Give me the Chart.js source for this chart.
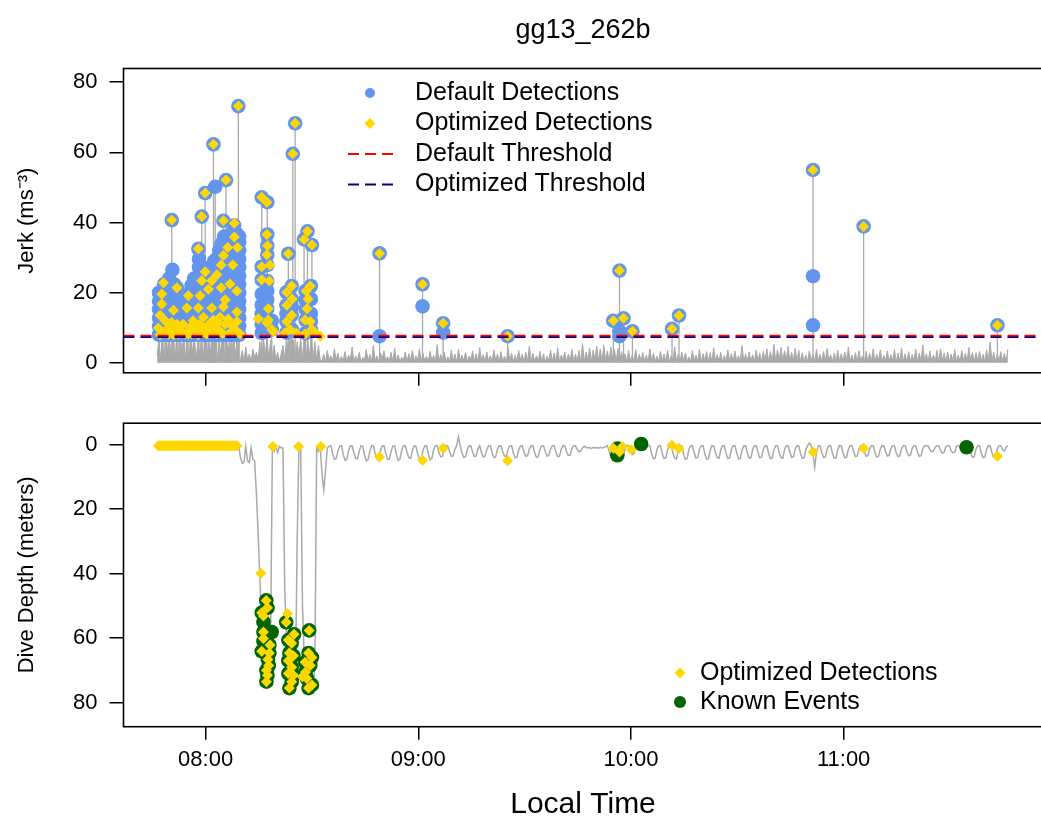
<!DOCTYPE html>
<html><head><meta charset="utf-8">
<script src="https://cdn.jsdelivr.net/npm/chart.js@4.4.1/dist/chart.umd.min.js"></script>
<style>
html,body{margin:0;padding:0;background:#fff;overflow:hidden;width:1041px;height:824px;}
#wrap{position:relative;width:1041px;height:824px;overflow:hidden;background:#fff;}
canvas{position:absolute;left:0;}
#title{position:absolute;left:123.5px;width:919px;top:13px;text-align:center;font-size:27px;font-family:"Liberation Sans",Arial,sans-serif;color:#000;z-index:5;line-height:32px;}
</style></head><body>
<div id="wrap">
<canvas id="c1" width="1050" height="398" style="top:0;width:1050px;height:398px"></canvas>
<canvas id="c2" width="1050" height="426" style="top:398px;width:1050px;height:426px"></canvas>
<div id="title">gg13_262b</div>
</div>
<script>
const FONT = '"Liberation Sans", Arial, sans-serif';
const X_MIN = 7.614, X_MAX = 11.935;
const tickHours = [8, 9, 10, 11];
const tickLabels = ['08:00', '09:00', '10:00', '11:00'];
const jerkTicks = [0, 20, 40, 60, 80];
const depthTicks = [0, 20, 40, 60, 80];
const thresholdDefault = 7.7;
const thresholdOptimized = 7.3;

// sensor traces sampled every 30 s from 07:46:20
const traceStart = 7.7722;
const traceStep = 1 / 120;
const jerkTrace = [
2,7,1,6.5,0.5,7.5,3,7,1,6,
0.5,7.5,2,7,4,7.5,1,6.5,0.5,7,
3,7.5,1,6,2,7.5,0.5,7,1.5,6.5,
3,7.5,1,7,0.5,6.5,2,7.5,1,7,
3,6.5,0.5,7.5,2,6,1,
1,3.5,0.5,4.5,1,2.5,0.5,4,1.5,3,1,
6,1,7,2,7.5,1,6.5,2,5,
1,3,0.5,2.5,
5,1,7,2,7.5,0.5,6.5,1,6,2,7,1,7.5,0.5,6.5,2,7,1,6,0.5,5,1,
0.5,2.5,0.3,3.5,1,2,0.4,4,0.8,2.8,
0.3,1.8,0.6,3.2,0.4,2.2,1,4.5,0.3,2,
0.6,3,0.3,1.5,0.8,3.8,0.4,2.4,0.3,5,
0.5,2,0.3,2.8,1.2,3.4,0.4,1.8,0.6,3,
0.3,4.2,0.5,2.3,0.3,1.6,0.9,3.1,0.4,2.6,
0.5,3.5,0.3,2,0.7,4,0.3,2.7,0.5,1.9,
0.4,3.3,0.6,2.1,0.3,5.2,0.5,2.4,0.8,3,
0.3,1.7,0.5,3.6,0.4,2.5,0.3,3.9,0.6,2.2,
0.5,2.9,0.3,1.9,1,3.4,0.4,2.6,0.3,4.4,
0.6,2.3,0.3,3.1,0.5,2,0.4,3.7,0.7,2.5,
0.3,3.2,0.5,1.8,0.4,4.1,0.6,2.8,0.3,2.1,
0.5,3.5,0.8,2.4,0.3,3,0.5,4.8,0.4,2.7,
0.3,2,0.6,3.3,0.4,2.6,0.3,1.9,0.7,3.6,
0.4,2.8,0.3,4.3,0.5,2.2,0.8,3.1,0.3,2.5,
0.5,3.8,0.4,2.4,0.6,3.5,0.3,5.5,0.5,3,
0.8,4.2,0.5,3.6,1,4.8,0.6,3.9,0.4,5,
0.7,3.4,0.5,4.5,0.9,3.8,0.4,4.1,0.6,3.2,
0.4,2.6,0.3,3.5,0.5,2.1,0.4,3.8,0.3,2.4,
0.6,3,0.4,2.2,0.3,4,0.5,2.7,0.4,1.9,
0.3,3.3,0.6,2.5,0.4,3.6,0.3,2,0.5,4.6,
0.4,2.4,0.3,3.1,0.6,2.8,0.4,1.7,0.3,3.5,
0.5,2.2,0.4,3.9,0.3,2.6,0.7,3.2,0.4,2.9,
0.3,4.3,0.5,2.4,0.4,3,0.3,2.1,0.6,3.7,
0.4,2.7,0.3,3.4,0.5,2,0.4,4.9,0.3,2.6,
0.5,3.1,0.6,2.3,0.3,3.6,0.5,2.8,0.4,3.3,
0.7,4,0.4,3.2,0.6,5.3,0.5,3.7,0.8,4.4,
0.5,3.5,0.7,4.7,0.4,3,0.6,4.2,0.5,3.6,
0.4,2.9,0.3,2.2,0.5,3.4,0.4,2.5,0.3,3.8,
0.6,2.4,0.3,3.2,0.4,4.1,0.5,2.3,0.3,2.8,
0.4,3.6,0.5,2.6,0.3,3.1,0.6,4.5,0.4,2.2,
0.3,2.9,0.4,3.5,0.5,2,0.3,3.3,0.4,2.7,
0.5,4,0.3,2.5,0.6,3.7,0.4,2.1,0.5,3.4,
0.4,2.3,0.6,3.8,0.3,2.8,0.5,4.3,0.4,2.6,
0.3,3.2,0.4,2.4,0.6,3.9,0.3,2.7,0.5,5.1,
0.4,2.6,0.3,3.4,0.5,2.2,0.4,3.6,0.3,4,
0.6,2.8,0.4,3.1,0.3,2.5,0.5,3.8,0.4,2.3,
0.3,3.5,0.5,2.7,0.4,4.4,0.6,3,0.3,2.9,
0.5,3.3,0.4,2.4,0.3,3.7,0.5,6,0.4,3.1,
0.3,2.5,0.6,3.2,0.4,2.7,0.3,3.9
];
const depthTrace = [
0.3,0.3,0.3,0.3,0.3,0.3,0.3,0.3,0.3,0.3,
0.3,0.3,0.3,0.3,0.3,0.3,0.3,0.3,0.3,0.3,
0.3,0.3,0.3,0.3,0.3,0.3,0.3,0.3,0.3,0.3,
0.3,0.3,0.3,0.3,0.3,0.3,0.3,0.3,0.3,0.3,
0.3,0.3,0.3,0.3,0.3,0.3,
0.3,4,5.8,5.5,0.5,5,5.5,1,4.5,5,
15,28,42,55,63,68,72,70,62,1,
2,0.5,2.5,0.5,1,
1,45,60,68,73,75,72,74,30,0.5,
1.5,
50,66,72,76,74,70,75,68,1,
2,0.5,9,14,8,1,0.5,
0.3,2.8,4.5,4.3,2,0.4, 0.3,3,4.8,4.6,1.8,0.3,
0.4,2.5,4.2,4.4,2.2,0.3, 0.5,3.2,5,4.7,2,0.4,
0.3,2.7,4.4,4.1,1.9,0.3, 0.3,2.6,4.6,4.5,2.1,0.4,
0.4,3,4.9,4.5,1.7,0.3, 0.3,2.4,4,4.2,2,0.3,
0.5,2.8,4.3,4.4,1.8,0.4, 0.3,2.9,4.7,4.3,1.6,0.3,
0.3,2.5,3.8,3.6,1.5,0.3, 0.4,2.2,3.6,3.5,1.4,0.3,
-2.5,0.3,2.6,3.9,3.7,1.5, 0.3,0.4,2.3,3.7,3.5,1.3,
0.3,2.4,3.8,3.6,1.6,0.3, 0.3,2.5,4,3.8,1.4,0.3,
0.4,2.2,3.5,3.7,1.5,0.3, 0.3,2.6,4.1,3.9,1.6,0.4,
0.3,2.3,3.6,3.4,1.4,0.3, 0.4,2.4,3.9,3.7,1.5,0.3,
0.3,2.1,3.5,3.3,1.3,0.3, 0.3,2.3,3.7,3.6,1.4,0.3,
0.4,2.2,3.4,3.2,1.2,0.3, 0.3,1.5,2.2,2,1,0.5,
0.8,1,0.9,1.2,0.8,1, 0.9,1.1,0.8,1,0.9,0.6,
0.3,2,3.8,3.6,1.2,0.3, 0.3,2.6,3.5,3.3,1.2,0.2,
0.3,1.8,3.1,2.8,0.6,0.2, 0.2,0.3,0.4,0.3,0.2,0.3,
0.3,2.8,4.4,4.2,1.5,0.3, 0.3,2.7,4.3,4.1,1.6,0.3,
0.4,2.5,4.2,4.5,1.7,0.3, 0.3,2.9,4.6,4.3,1.5,0.4,
0.3,2.6,4.1,4,1.4,0.3, 0.3,2.8,4.5,4.4,1.8,0.3,
0.4,2.4,4,4.2,1.6,0.3, 0.3,2.7,4.3,4.1,1.5,0.3,
0.3,2.5,4.4,4.3,1.7,0.4, 0.3,2.6,4.2,4,1.6,0.3,
0.3,2.4,4.1,3.9,1.5,0.3, 0.4,2.6,4.3,4.2,1.6,0.3,
0.3,2.5,4,4.2,1.5,0.3, 0.3,2.3,3.9,3.7,1.4,0.3,
0.4,2.7,4.2,4,1.6,0.3, -0.5,0.3,2.8,7,2.5,0.3,
0.3,2.4,4,3.8,1.5,0.3, 0.3,2.6,4.2,4.1,1.6,0.3,
0.4,2.5,4.1,3.9,1.4,0.3, 0.3,2.2,3.7,3.5,1.3,0.3,
0.3,2.3,3.6,3.4,1.3,0.3, 0.3,2.4,3.8,3.6,1.4,0.3,
0.4,2.2,3.5,3.3,1.2,0.3, 0.3,2.5,3.7,3.5,1.3,0.3,
0.3,2.1,3.4,3.3,1.2,0.3, 0.3,2.3,3.6,3.4,1.3,0.3,
0.3,0.4,1.5,2.2,2,0.8, 0.3,0.3,1.8,2.6,2.4,0.6,
0.3,0.3,2,2.5,2.3,0.5, 0.3,0.4,0.3,0.5,0.3,0.4,
0.3,2.5,3.9,3.7,1.4,0.3, 0.3,2.6,4,3.8,1.5,0.3,
0.4,2.4,3.8,3.6,1.3,0.3, 0.3,1.5,2,0.8,0.3
];

// detections grouped by time: [hour, value, value, ...]
const defaultDetections = [
[7.781, 8,10.4,12.8,15.2,17.6,20],
[7.793, 8,10.4,12.8,15.2,17.6,20],
[7.805, 8,10.4,12.8,15.2,17.6,20,22.4],
[7.817, 8,10.4,12.8,15.2,17.6,20,22.4],
[7.828, 8,10.4,12.8,15.2,17.6,20,22.4,24],
[7.841, 40.7],
[7.844, 26.5],
[7.852, 8,10.4,12.8,15.2,17.6,20,22.4],
[7.864, 8,10.4,12.8,15.2,17.6,20,21.5],
[7.875, 8,10.4,12.8,15.2,17.6,20],
[7.899, 8,10.4,12.8,15.2,17],
[7.910, 8,10.4,12.8,15.2,17.6],
[7.922, 8,10.4,12.8,15.2,17.6,19],
[7.934, 8,10.4,12.8,15.2,17.6,20,22],
[7.946, 8,10.4,12.8,15.2,17.6,20,22.4,24],
[7.966, 32.5],
[7.969, 8,10.4,12.8,15.2,17.6,20,22.4,24.8,27.2,29.6],
[7.982, 41.7],
[7.993, 8,10.4,12.8,15.2,17.6,20,22.4,24.8,27],
[7.998, 48.4],
[8.005, 8,10.4,12.8,15.2,17.6,20,22.4,24.8],
[8.016, 8,10.4,12.8,15.2,17.6,20,22.4,24.8,27],
[8.028, 8,10.4,12.8,15.2,17.6,20,22.4,24.8,27],
[8.037, 62.3],
[8.040, 8,10.4,12.8,15.2,17.6,20,22.4,24.8,27.2,29],
[8.045, 50.2],
[8.052, 8,10.4,12.8,15.2,17.6,20,22.4,24.8,27.2,29.6],
[8.064, 8,10.4,12.8,15.2,17.6,20,22.4,24.8,27.2,29.6,32],
[8.075, 8,10.4,12.8,15.2,17.6,20,22.4,24.8,27.2,29.6,32,34],
[8.084, 40.5],
[8.087, 8,10.4,12.8,15.2,17.6,20,22.4,24.8,27.2,29.6,32,34.4,36],
[8.096, 52.1],
[8.099, 8,10.4,12.8,15.2,17.6,20,22.4,24.8,27.2,29.6,32,34.4],
[8.111, 8,10.4,12.8,15.2,17.6,20,22.4,24.8,27.2,29.6,32,34.4,36],
[8.122, 8,10.4,12.8,15.2,17.6,20,22.4,24.8,27.2,29.6,32,34.4,36.8],
[8.134, 8,10.4,12.8,15.2,17.6,20,22.4,24.8,27.2,29.6,32,34.4,36.8,39.2],
[8.146, 8,10.4,12.8,15.2,17.6,20,22.4,24.8,27.2,29.6,32,34.4,36.8],
[8.154, 73.2],
[8.158, 8,10.4,12.8,15.2,17.6,20,22.4,24.8,27.2,29.6,32,34.4,36],
[8.264, 8.5,11,14,16.5,19.6,23.7,27.4,47.2],
[8.290, 9.5,12.2,15.4,18,20.5,23.3,27.9,30.8,33.4,36.6,45.8],
[8.311, 9.5,12],
[8.380, 8.6,11.8,14,16.4,20.1],
[8.389, 31.1],
[8.405, 9.5,13.6,16,18.2,21.9],
[8.410, 59.6],
[8.421, 68.3],
[8.463, 35.2],
[8.470, 8.5,12.2,15.4,18,20.5],
[8.479, 37.5],
[8.495, 9.5,11.8,14,18.2,21.9],
[8.500, 33.6],
[8.818, 7.6,31.2],
[9.020, 16.1,22.4],
[9.117, 8.6,11.3],
[9.420, 7.6],
[9.917, 12.0],
[9.946, 7.6,9.0,26.3],
[9.965, 12.7],
[10.007, 9.0],
[10.193, 9.7],
[10.226, 13.5],
[10.856, 10.7,24.7,55.0],
[11.094, 38.9],
[11.723, 10.7]
];
const optimizedDetections = [
[7.778, 9.9],[7.786, 8,13.6],[7.794, 16.8,19.6],[7.802, 22.8,8.5],[7.810, 12],[7.818, 9.5],[7.826, 8.2],
[7.834, 10.5],[7.841, 11.5,40.7],[7.849, 8,15],[7.857, 9],[7.865, 11,21.4],[7.872, 8.2],[7.880, 9.5],
[7.888, 8.5],[7.894, 11],[7.904, 8.3],
[7.912, 15.6],[7.919, 8.2,19.1],[7.927, 10],[7.935, 8.4],[7.941, 12],[7.951, 9],[7.958, 10.5],[7.966, 8,15.6,32.5],
[7.974, 11,19.1],[7.982, 23.4,41.7,8.5],[7.990, 13],[7.998, 9.5,26,48.4],[8.005, 8.2],[8.012, 10.8],[8.013, 21],
[8.021, 8.5],[8.029, 15.6,23.4],[8.037, 12.2,62.3],[8.045, 10],[8.053, 25.1,8.3],[8.059, 11.5],
[8.068, 9,13],[8.073, 21.4,27.9],[8.080, 8.4],[8.084, 16,30.6,40.5],[8.092, 11,18],[8.096, 52.1],[8.104, 32.9],
[8.106, 12.5],[8.115, 8.5,22.5],[8.125, 10.5],[8.128, 27.9],[8.135, 35.9,39.8],[8.139, 9.5],
[8.147, 11.8,14.5,20.5],[8.150, 32.9],[8.154, 73.2],[8.162, 8.2],
[8.248, 12.6],[8.264, 23.7,27.4,47.2],[8.288, 11.4,30.8,36.6,45.8],[8.291, 33.4],[8.295, 12.2,15.4],
[8.300, 23.3],[8.303, 27.9],[8.311, 9.5],[8.319, 9],
[8.374, 8.6],[8.382, 11.8,16.4,20.1],[8.389, 31.1],[8.397, 9.5],[8.405, 13.6,21.9],[8.407, 18.2],
[8.410, 59.6],[8.421, 68.3],[8.426, 8.5],
[8.463, 35.2],[8.468, 8.2,12.2],[8.473, 20.5],[8.477, 15.4],[8.479, 37.5],[8.482, 18.2],
[8.492, 11.8,21.9],[8.500, 9.5,33.6],[8.515, 8.6],[8.539, 7.6],
[8.818, 31.2],[9.020, 22.4],[9.117, 11.3],[9.420, 7.6],[9.917, 12.0],[9.946, 26.3],[9.965, 12.7],
[10.007, 9.0],[10.193, 9.7],[10.226, 13.5],[10.856, 55.0],[11.094, 38.9],[11.723, 10.7]
];
// depth of optimized detections: [hour, depth]
const optimizedDepths = [
[7.778,0.3],[7.786,0.3],[7.794,0.3],[7.802,0.3],[7.810,0.3],[7.818,0.3],[7.826,0.3],[7.834,0.3],
[7.841,0.3],[7.849,0.3],[7.857,0.3],[7.865,0.3],[7.873,0.3],[7.880,0.3],[7.888,0.3],[7.894,0.3],
[7.904,0.3],[7.912,0.3],[7.919,0.3],[7.927,0.3],[7.935,0.3],[7.941,0.3],[7.951,0.3],[7.958,0.3],
[7.966,0.3],[7.974,0.3],[7.982,0.3],[7.990,0.3],[7.998,0.3],[8.005,0.3],[8.013,0.3],[8.021,0.3],
[8.029,0.3],[8.037,0.3],[8.045,0.3],[8.053,0.3],[8.059,0.3],[8.068,0.3],[8.076,0.3],[8.084,0.3],
[8.092,0.3],[8.100,0.3],[8.106,0.3],[8.115,0.3],[8.125,0.3],[8.132,0.3],[8.139,0.3],[8.147,0.3],
[8.260,39.9],[8.285,48.3],[8.291,50.6],[8.264,52.1],[8.272,53.1],[8.272,58.1],[8.272,60.1],
[8.303,62.1],[8.264,64.1],[8.300,64.6],[8.293,66.6],[8.297,68.5],[8.286,70.0],[8.291,71.5],[8.286,73.5],
[8.316,0.6],
[8.385,52.4],[8.379,55.1],[8.416,58.8],[8.389,60.6],[8.405,61.6],[8.394,64.6],[8.413,65.5],
[8.389,67],[8.405,69],[8.389,71],[8.413,71.5],[8.405,73.5],[8.394,75.5],
[8.437,0.6],
[8.487,57.6],[8.484,64.6],[8.500,66],[8.468,67.5],[8.492,68.5],[8.470,70.5],[8.455,72],
[8.476,72.5],[8.500,74.5],[8.484,75.5],
[8.542,0.6],
[8.818,3.8],[9.020,4.8],[9.117,1.1],[9.420,5.0],[9.917,1.1],[9.946,2.3],[9.960,0.6],[10.002,1.6],
[10.193,0.2],[10.226,1.1],[10.857,2.3],[11.094,1.1],[11.723,3.6]
];
const knownEvents = [
[8.285,48.3],[8.291,50.6],[8.264,52.1],[8.272,55],[8.272,58.1],[8.311,58.1],[8.272,61],[8.264,64.1],
[8.300,62.1],[8.300,64.6],[8.293,66.6],[8.297,68.5],[8.286,70.0],[8.291,71.5],[8.286,73.5],
[8.379,55.1],[8.389,60.6],[8.416,58.8],[8.405,61.6],[8.394,64.6],[8.413,65.5],[8.389,67],
[8.405,69],[8.389,71],[8.413,71.5],[8.405,73.5],[8.394,75.5],
[8.487,57.6],[8.484,64.6],[8.500,66],[8.468,67.5],[8.492,68.5],[8.470,70.5],[8.476,72.5],
[8.500,74.5],[8.484,75.5],
[9.936,1.2],[9.936,3.3],[10.048,-0.2],[11.578,0.8]
];
const legendTopLabels = ['Default Detections', 'Optimized Detections', 'Default Threshold', 'Optimized Threshold'];
const legendBottomLabels = ['Optimized Detections', 'Known Events'];

// colours
const BLUE = '#6495ED', GOLD = '#FFD700', GREEN = '#006400', GRAY = '#A9A9A9', RED = '#FF0000', NAVY = '#00008B';

// ---- build point lists ----
const flatGroups = g => g.flatMap(([t, ...vals]) => vals.map(v => ({x: t, y: v})));
const jerkPts = jerkTrace.map((v, i) => ({x: traceStart + i * traceStep, y: v}));
const depthPts = depthTrace.map((v, i) => ({x: traceStart + i * traceStep, y: v}));
const defPts = flatGroups(defaultDetections);
const optPts = flatGroups(optimizedDetections);
const stemPts = [];
defaultDetections.forEach(([t, ...vals]) => {
  stemPts.push({x: t, y: 0}, {x: t, y: Math.max(...vals)}, {x: t, y: null});
});
const optDepthPts = optimizedDepths.map(([t, d]) => ({x: t, y: d}));
const knownPts = knownEvents.map(([t, d]) => ({x: t, y: d}));

function drawSymbol(ctx, s, x, y) {
  ctx.save();
  if (s.type === 'circle') {
    ctx.fillStyle = s.color; ctx.beginPath(); ctx.arc(x, y, s.r, 0, Math.PI * 2); ctx.fill();
  } else if (s.type === 'diamond') {
    ctx.fillStyle = s.color; ctx.beginPath();
    ctx.moveTo(x - s.r, y); ctx.lineTo(x, y - s.r); ctx.lineTo(x + s.r, y); ctx.lineTo(x, y + s.r);
    ctx.closePath(); ctx.fill();
  } else if (s.type === 'dash') {
    ctx.strokeStyle = s.color; ctx.lineWidth = 2; ctx.setLineDash([11, 6]);
    ctx.beginPath(); ctx.moveTo(x - 22, y); ctx.lineTo(x + 24, y); ctx.stroke();
  }
  ctx.restore();
}

const innerLegend = {
  id: 'innerLegend',
  afterDraw(chart, args, o) {
    const ctx = chart.ctx;
    ctx.save();
    ctx.font = o.font; ctx.textBaseline = 'middle'; ctx.textAlign = 'left';
    o.labels.forEach((label, k) => {
      const y = o.y0 + k * o.dy;
      drawSymbol(ctx, o.symbols[k], o.mx, y);
      ctx.fillStyle = '#000';
      ctx.fillText(label, o.tx, y);
    });
    ctx.restore();
  }
};
const frame = {
  id: 'frame',
  afterDatasetsDraw(chart) {
    const {ctx, chartArea: a} = chart;
    ctx.save(); ctx.strokeStyle = '#000'; ctx.lineWidth = 1.6;
    ctx.strokeRect(a.left, a.top, a.right - a.left, a.bottom - a.top);
    ctx.restore();
  }
};

function xAxis(showLabels, height) {
  return {
    type: 'linear', min: X_MIN, max: X_MAX,
    afterFit: s => { s.height = height; },
    afterBuildTicks: s => { s.ticks = tickHours.map(v => ({value: v})); },
    ticks: {display: showLabels, color: '#000', padding: 7, font: {family: FONT, size: 22}, maxRotation: 0,
      callback: v => tickLabels[tickHours.indexOf(v)]},
    grid: {drawOnChartArea: false, drawTicks: true, tickLength: 13, color: '#000', lineWidth: 1.5},
    border: {display: false},
    title: showLabels ? {display: true, text: 'Local Time', color: '#000', font: {family: FONT, size: 30}, padding: {top: 0, bottom: 1}} : {display: false}
  };
}
function yAxis(min, max, ticks, title, reverse) {
  return {
    type: 'linear', min, max, reverse,
    afterFit: s => { s.width = 123.5; },
    afterBuildTicks: s => { s.ticks = ticks.map(v => ({value: v})); },
    ticks: {color: '#000', padding: 12, font: {family: FONT, size: 22}},
    grid: {drawOnChartArea: false, drawTicks: true, tickLength: 14, color: '#000', lineWidth: 1.5},
    border: {display: false},
    title: {display: true, text: title, color: '#000', font: {family: FONT, size: 22}, padding: {top: 14, bottom: 0}}
  };
}
const common = {
  responsive: false, animation: false, devicePixelRatio: 1,
  events: [],
};

new Chart(document.getElementById('c1'), {
  type: 'scatter',
  data: {datasets: [
    {label: 'Optimized Threshold', type: 'line', data: [{x: X_MIN, y: thresholdOptimized}, {x: X_MAX, y: thresholdOptimized}],
      borderColor: NAVY, borderWidth: 1.6, borderDash: [11, 6], pointRadius: 0, order: 0},
    {label: 'Default Threshold', type: 'line', data: [{x: X_MIN, y: thresholdDefault}, {x: X_MAX, y: thresholdDefault}],
      borderColor: RED, borderWidth: 2.2, borderDash: [11, 6], pointRadius: 0, order: 1},
    {label: 'Optimized Detections', data: optPts, pointStyle: 'rectRot', pointRadius: 5.5, backgroundColor: GOLD, borderWidth: 0, order: 2},
    {label: 'Default Detections', data: defPts, pointStyle: 'circle', pointRadius: 7.3, backgroundColor: BLUE, borderWidth: 0, order: 3},
    {label: 'stems', type: 'line', data: stemPts, borderColor: GRAY, borderWidth: 1.3, pointRadius: 0, spanGaps: false, order: 4},
    {label: 'jerk', type: 'line', data: jerkPts, borderColor: GRAY, backgroundColor: GRAY, fill: 'origin', borderWidth: 1, pointRadius: 0, order: 5}
  ]},
  options: {...common,
    layout: {padding: {top: 68.5, right: 7.5, bottom: 0, left: 0}},
    scales: {x: xAxis(false, 15), y: yAxis(-2.84, 83.92, jerkTicks, 'Jerk (ms\u207B\u00B3)', false)},
    plugins: {legend: {display: false}, tooltip: {enabled: false}, title: {display: false},
      innerLegend: {labels: legendTopLabels, font: '25px ' + FONT, mx: 370, tx: 415, y0: 93, dy: 30.5,
        symbols: [{type: 'circle', color: BLUE, r: 5}, {type: 'diamond', color: GOLD, r: 5.5}, {type: 'dash', color: RED}, {type: 'dash', color: NAVY}]}}
  },
  plugins: [frame, innerLegend]
});

new Chart(document.getElementById('c2'), {
  type: 'scatter',
  data: {datasets: [
    {label: 'Optimized Detections', data: optDepthPts, pointStyle: 'rectRot', pointRadius: 5.5, backgroundColor: GOLD, borderWidth: 0, order: 0},
    {label: 'Known Events', data: knownPts, pointStyle: 'circle', pointRadius: 7.3, backgroundColor: GREEN, borderWidth: 0, order: 1},
    {label: 'depth', type: 'line', data: depthPts, borderColor: GRAY, borderWidth: 1.5, pointRadius: 0, order: 2}
  ]},
  options: {...common,
    layout: {padding: {top: 13.7, right: 7.5, bottom: 0, left: 0}},
    scales: {x: xAxis(true, 97.3), y: yAxis(-6.66, 87.47, depthTicks, 'Dive Depth (meters)', true)},
    plugins: {legend: {display: false}, tooltip: {enabled: false},
      innerLegend: {labels: legendBottomLabels, font: '25px ' + FONT, mx: 680, tx: 700, y0: 275, dy: 29,
        symbols: [{type: 'diamond', color: GOLD, r: 5.5}, {type: 'circle', color: GREEN, r: 6}]}}
  },
  plugins: [frame, innerLegend]
});
</script>
</body></html>
